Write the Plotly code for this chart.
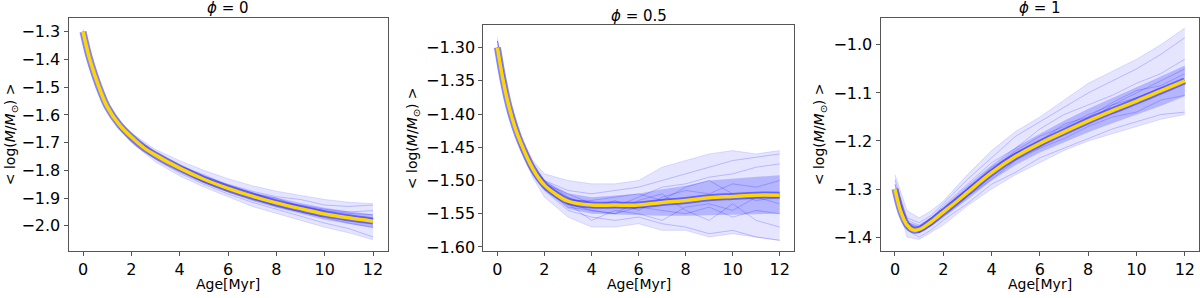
import plotly.graph_objects as go

# ---------------- data ----------------
x_mean = [0, 0.25, 0.5, 0.75, 1, 1.5, 2, 2.5, 3, 4, 5, 6, 7, 8, 9, 10, 11, 12]
mean_phi0 = [-1.30, -1.39, -1.46, -1.52, -1.57, -1.635, -1.68, -1.717, -1.745, -1.792, -1.832,
             -1.865, -1.893, -1.917, -1.938, -1.957, -1.971, -1.983]
mean_phi05 = [-1.30, -1.35, -1.39, -1.42, -1.444, -1.482, -1.507, -1.521, -1.531, -1.537, -1.537,
              -1.537, -1.533, -1.530, -1.526, -1.524, -1.522, -1.522]
mean_phi1 = [-1.30, -1.348, -1.375, -1.385, -1.384, -1.368, -1.348, -1.328, -1.307, -1.266, -1.232,
             -1.205, -1.181, -1.158, -1.137, -1.117, -1.096, -1.075]

x_run = [0, 0.5, 1, 1.5, 2, 3, 4, 5, 6, 7, 8, 9, 10, 11, 12]

env_hi_phi0 = [-1.29, -1.45, -1.56, -1.62, -1.665, -1.725, -1.765, -1.80, -1.83, -1.855, -1.875, -1.89, -1.905, -1.915, -1.92]
env_lo_phi0 = [-1.30, -1.47, -1.58, -1.65, -1.70, -1.77, -1.82, -1.86, -1.895, -1.93, -1.955, -1.98, -2.005, -2.025, -2.05]
core_hi_phi0 = [-1.30, -1.457, -1.566, -1.63, -1.675, -1.737, -1.782, -1.82, -1.85, -1.877, -1.898, -1.918, -1.935, -1.948, -1.958]
core_lo_phi0 = [-1.30, -1.463, -1.574, -1.64, -1.687, -1.753, -1.802, -1.845, -1.88, -1.91, -1.935, -1.957, -1.978, -1.993, -2.008]

env_hi_phi05 = [-1.285, -1.38, -1.435, -1.47, -1.49, -1.50, -1.505, -1.505, -1.50, -1.48, -1.47, -1.46, -1.455, -1.46, -1.455]
env_lo_phi05 = [-1.30, -1.40, -1.455, -1.495, -1.525, -1.555, -1.57, -1.57, -1.565, -1.575, -1.575, -1.585, -1.58, -1.585, -1.59]
core_hi_phi05 = [-1.295, -1.387, -1.441, -1.478, -1.500, -1.519, -1.525, -1.523, -1.520, -1.513, -1.508, -1.500, -1.497, -1.494, -1.492]
core_lo_phi05 = [-1.30, -1.393, -1.447, -1.486, -1.514, -1.543, -1.550, -1.551, -1.553, -1.553, -1.553, -1.552, -1.551, -1.550, -1.550]

env_hi_phi1 = [-1.27, -1.345, -1.36, -1.345, -1.325, -1.27, -1.22, -1.18, -1.15, -1.115, -1.08, -1.055, -1.03, -1.00, -0.965]
env_lo_phi1 = [-1.31, -1.40, -1.405, -1.39, -1.375, -1.335, -1.30, -1.27, -1.245, -1.22, -1.20, -1.185, -1.17, -1.155, -1.145]
core_hi_phi1 = [-1.295, -1.368, -1.376, -1.358, -1.337, -1.292, -1.250, -1.213, -1.185, -1.158, -1.133, -1.110, -1.088, -1.066, -1.043]
core_lo_phi1 = [-1.303, -1.382, -1.392, -1.378, -1.360, -1.322, -1.282, -1.250, -1.224, -1.203, -1.182, -1.163, -1.145, -1.127, -1.107]

runs_phi0 = [
    [-1.30, -1.46, -1.565, -1.63, -1.675, -1.735, -1.78, -1.82, -1.85, -1.875, -1.895, -1.905, -1.925, -1.93, -1.925],
    [-1.30, -1.465, -1.575, -1.64, -1.69, -1.76, -1.81, -1.85, -1.885, -1.915, -1.94, -1.965, -1.99, -2.01, -2.04],
    [-1.30, -1.455, -1.57, -1.635, -1.685, -1.75, -1.795, -1.84, -1.87, -1.885, -1.90, -1.93, -1.945, -1.955, -1.96],
    [-1.30, -1.46, -1.57, -1.64, -1.68, -1.74, -1.79, -1.825, -1.86, -1.90, -1.93, -1.95, -1.97, -1.99, -2.005],
    [-1.30, -1.46, -1.57, -1.63, -1.68, -1.75, -1.80, -1.84, -1.87, -1.89, -1.91, -1.945, -1.96, -1.965, -1.975],
    [-1.30, -1.46, -1.565, -1.635, -1.68, -1.745, -1.785, -1.815, -1.855, -1.88, -1.915, -1.925, -1.94, -1.95, -1.945],
]
runs_phi05 = [
    [-1.29, -1.385, -1.44, -1.48, -1.50, -1.515, -1.52, -1.515, -1.51, -1.50, -1.49, -1.48, -1.47, -1.465, -1.46],
    [-1.30, -1.395, -1.45, -1.49, -1.515, -1.545, -1.555, -1.56, -1.555, -1.565, -1.57, -1.58, -1.575, -1.585, -1.59],
    [-1.30, -1.39, -1.44, -1.475, -1.50, -1.525, -1.54, -1.53, -1.545, -1.525, -1.515, -1.52, -1.505, -1.51, -1.50],
    [-1.30, -1.39, -1.445, -1.485, -1.51, -1.54, -1.545, -1.55, -1.54, -1.545, -1.55, -1.54, -1.555, -1.545, -1.55],
    [-1.29, -1.385, -1.44, -1.48, -1.505, -1.53, -1.53, -1.525, -1.52, -1.53, -1.51, -1.50, -1.52, -1.53, -1.525],
    [-1.30, -1.395, -1.45, -1.485, -1.51, -1.535, -1.545, -1.55, -1.53, -1.52, -1.545, -1.56, -1.535, -1.56, -1.57],
    [-1.30, -1.39, -1.445, -1.48, -1.505, -1.52, -1.535, -1.54, -1.525, -1.51, -1.505, -1.495, -1.49, -1.48, -1.475],
    [-1.29, -1.39, -1.445, -1.485, -1.51, -1.535, -1.56, -1.545, -1.55, -1.56, -1.54, -1.535, -1.545, -1.525, -1.535],
]
runs_phi1 = [
    [-1.29, -1.36, -1.37, -1.355, -1.33, -1.28, -1.235, -1.19, -1.16, -1.13, -1.10, -1.075, -1.05, -1.02, -0.985],
    [-1.30, -1.385, -1.40, -1.385, -1.365, -1.33, -1.29, -1.265, -1.235, -1.215, -1.195, -1.175, -1.16, -1.145, -1.14],
    [-1.30, -1.37, -1.38, -1.36, -1.34, -1.30, -1.255, -1.225, -1.20, -1.165, -1.15, -1.12, -1.095, -1.085, -1.06],
    [-1.31, -1.38, -1.39, -1.37, -1.35, -1.315, -1.28, -1.24, -1.215, -1.195, -1.17, -1.15, -1.14, -1.115, -1.105],
    [-1.29, -1.375, -1.385, -1.365, -1.345, -1.30, -1.26, -1.22, -1.19, -1.17, -1.145, -1.125, -1.10, -1.075, -1.05],
    [-1.30, -1.38, -1.39, -1.375, -1.35, -1.31, -1.265, -1.225, -1.21, -1.18, -1.16, -1.125, -1.11, -1.09, -1.08],
    [-1.28, -1.365, -1.375, -1.36, -1.335, -1.29, -1.245, -1.215, -1.175, -1.145, -1.125, -1.105, -1.08, -1.06, -1.03],
]

titles = ["<i>ϕ</i> = 0", "<i>ϕ</i> = 0.5", "<i>ϕ</i> = 1"]
x_ticks = [0, 2, 4, 6, 8, 10, 12]

# ---------------- figure ----------------
H = 298.0
panels = [
    dict(mean=mean_phi0, hi=env_hi_phi0, lo=env_lo_phi0, chi=core_hi_phi0, clo=core_lo_phi0, runs=runs_phi0,
         dom=[68.5/1200, 387.5/1200], ydom=[1 - 255.7/H, 1 - 18.3/H], yr=[-2.089, -1.2505],
         dtick=0.1, fmt=".1f", ylab_x=11/1200, title_y=8.5),
    dict(mean=mean_phi05, hi=env_hi_phi05, lo=env_lo_phi05, chi=core_hi_phi05, clo=core_lo_phi05, runs=runs_phi05,
         dom=[483.3/1200, 793.8/1200], ydom=[1 - 256/H, 1 - 26/H], yr=[-1.6058, -1.2668],
         dtick=0.05, fmt=".2f", ylab_x=413/1200, title_y=16),
    dict(mean=mean_phi1, hi=env_hi_phi1, lo=env_lo_phi1, chi=core_hi_phi1, clo=core_lo_phi1, runs=runs_phi1,
         dom=[880.5/1200, 1199.3/1200], ydom=[1 - 255.7/H, 1 - 18.3/H], yr=[-1.428, -0.944],
         dtick=0.1, fmt=".1f", ylab_x=820/1200, title_y=8.5),
]

fig = go.Figure()
FONT = "DejaVu Sans"
annotations = []

for i, p in enumerate(panels):
    xa = "x" if i == 0 else f"x{i+1}"
    ya = "y" if i == 0 else f"y{i+1}"
    # outer envelope of the ensemble
    fig.add_trace(go.Scatter(x=x_run, y=p["hi"], mode="lines", line=dict(width=0.6, color="rgba(60,60,255,0.25)"),
                             xaxis=xa, yaxis=ya, showlegend=False, hoverinfo="skip"))
    fig.add_trace(go.Scatter(x=x_run, y=p["lo"], mode="lines", line=dict(width=0.6, color="rgba(60,60,255,0.25)"),
                             fill="tonexty", fillcolor="rgba(80,80,255,0.15)",
                             xaxis=xa, yaxis=ya, showlegend=False, hoverinfo="skip"))
    # denser core of the ensemble
    fig.add_trace(go.Scatter(x=x_run, y=p["chi"], mode="lines", line=dict(width=0),
                             xaxis=xa, yaxis=ya, showlegend=False, hoverinfo="skip"))
    fig.add_trace(go.Scatter(x=x_run, y=p["clo"], mode="lines", line=dict(width=0),
                             fill="tonexty", fillcolor="rgba(60,60,255,0.28)",
                             xaxis=xa, yaxis=ya, showlegend=False, hoverinfo="skip"))
    for r in p["runs"]:
        fig.add_trace(go.Scatter(x=x_run, y=r, mode="lines", line=dict(width=0.8, color="rgba(0,0,255,0.25)"),
                                 xaxis=xa, yaxis=ya, showlegend=False, hoverinfo="skip"))
    # dense bundle hugging the mean
    fig.add_trace(go.Scatter(x=x_mean, y=p["mean"], mode="lines",
                             line=dict(width=7, color="rgba(30,30,255,0.55)", shape="spline"),
                             xaxis=xa, yaxis=ya, showlegend=False, hoverinfo="skip"))
    fig.add_trace(go.Scatter(x=x_mean, y=p["mean"], mode="lines", line=dict(width=3.5, color="#FFD700", shape="spline"),
                             xaxis=xa, yaxis=ya, showlegend=False, hoverinfo="skip"))

    common = dict(showline=True, mirror=True, linecolor="#555", linewidth=1, ticks="outside", ticklen=4,
                  tickcolor="#555", showgrid=False, zeroline=False,
                  tickfont=dict(family=FONT, size=16, color="black"))
    fig.update_layout(**{
        ("xaxis" if i == 0 else f"xaxis{i+1}"): dict(domain=p["dom"], range=[-0.6, 12.6], tickvals=x_ticks,
                                                    anchor=ya, **common),
        ("yaxis" if i == 0 else f"yaxis{i+1}"): dict(domain=p["ydom"], range=p["yr"], dtick=p["dtick"],
                                                    tickformat=p["fmt"], anchor=xa, **common),
    })
    cx = (p["dom"][0] + p["dom"][1]) / 2
    cy = (p["ydom"][0] + p["ydom"][1]) / 2
    annotations.append(dict(text=titles[i], x=cx, y=1 - p["title_y"]/H, xref="paper", yref="paper", showarrow=False,
                            font=dict(family=FONT, size=15, color="black"), xanchor="center", yanchor="middle"))
    annotations.append(dict(text="Age[Myr]", x=cx, y=1 - 290/H, xref="paper", yref="paper", showarrow=False,
                            font=dict(family=FONT, size=14, color="black"), xanchor="center", yanchor="middle"))
    annotations.append(dict(text="< log(<i>M</i>/<i>M</i><sub>⊙</sub>) >", x=p["ylab_x"], y=cy,
                            xref="paper", yref="paper", showarrow=False, textangle=-90,
                            font=dict(family=FONT, size=14, color="black"), xanchor="center", yanchor="middle"))

fig.update_layout(width=1200, height=298, margin=dict(l=0, r=0, t=0, b=0),
                  paper_bgcolor="white", plot_bgcolor="white", annotations=annotations)
fig.write_html("out.html", config={"displayModeBar": False},
               post_script="document.body.style.margin='0px';document.body.style.overflow='hidden';")
